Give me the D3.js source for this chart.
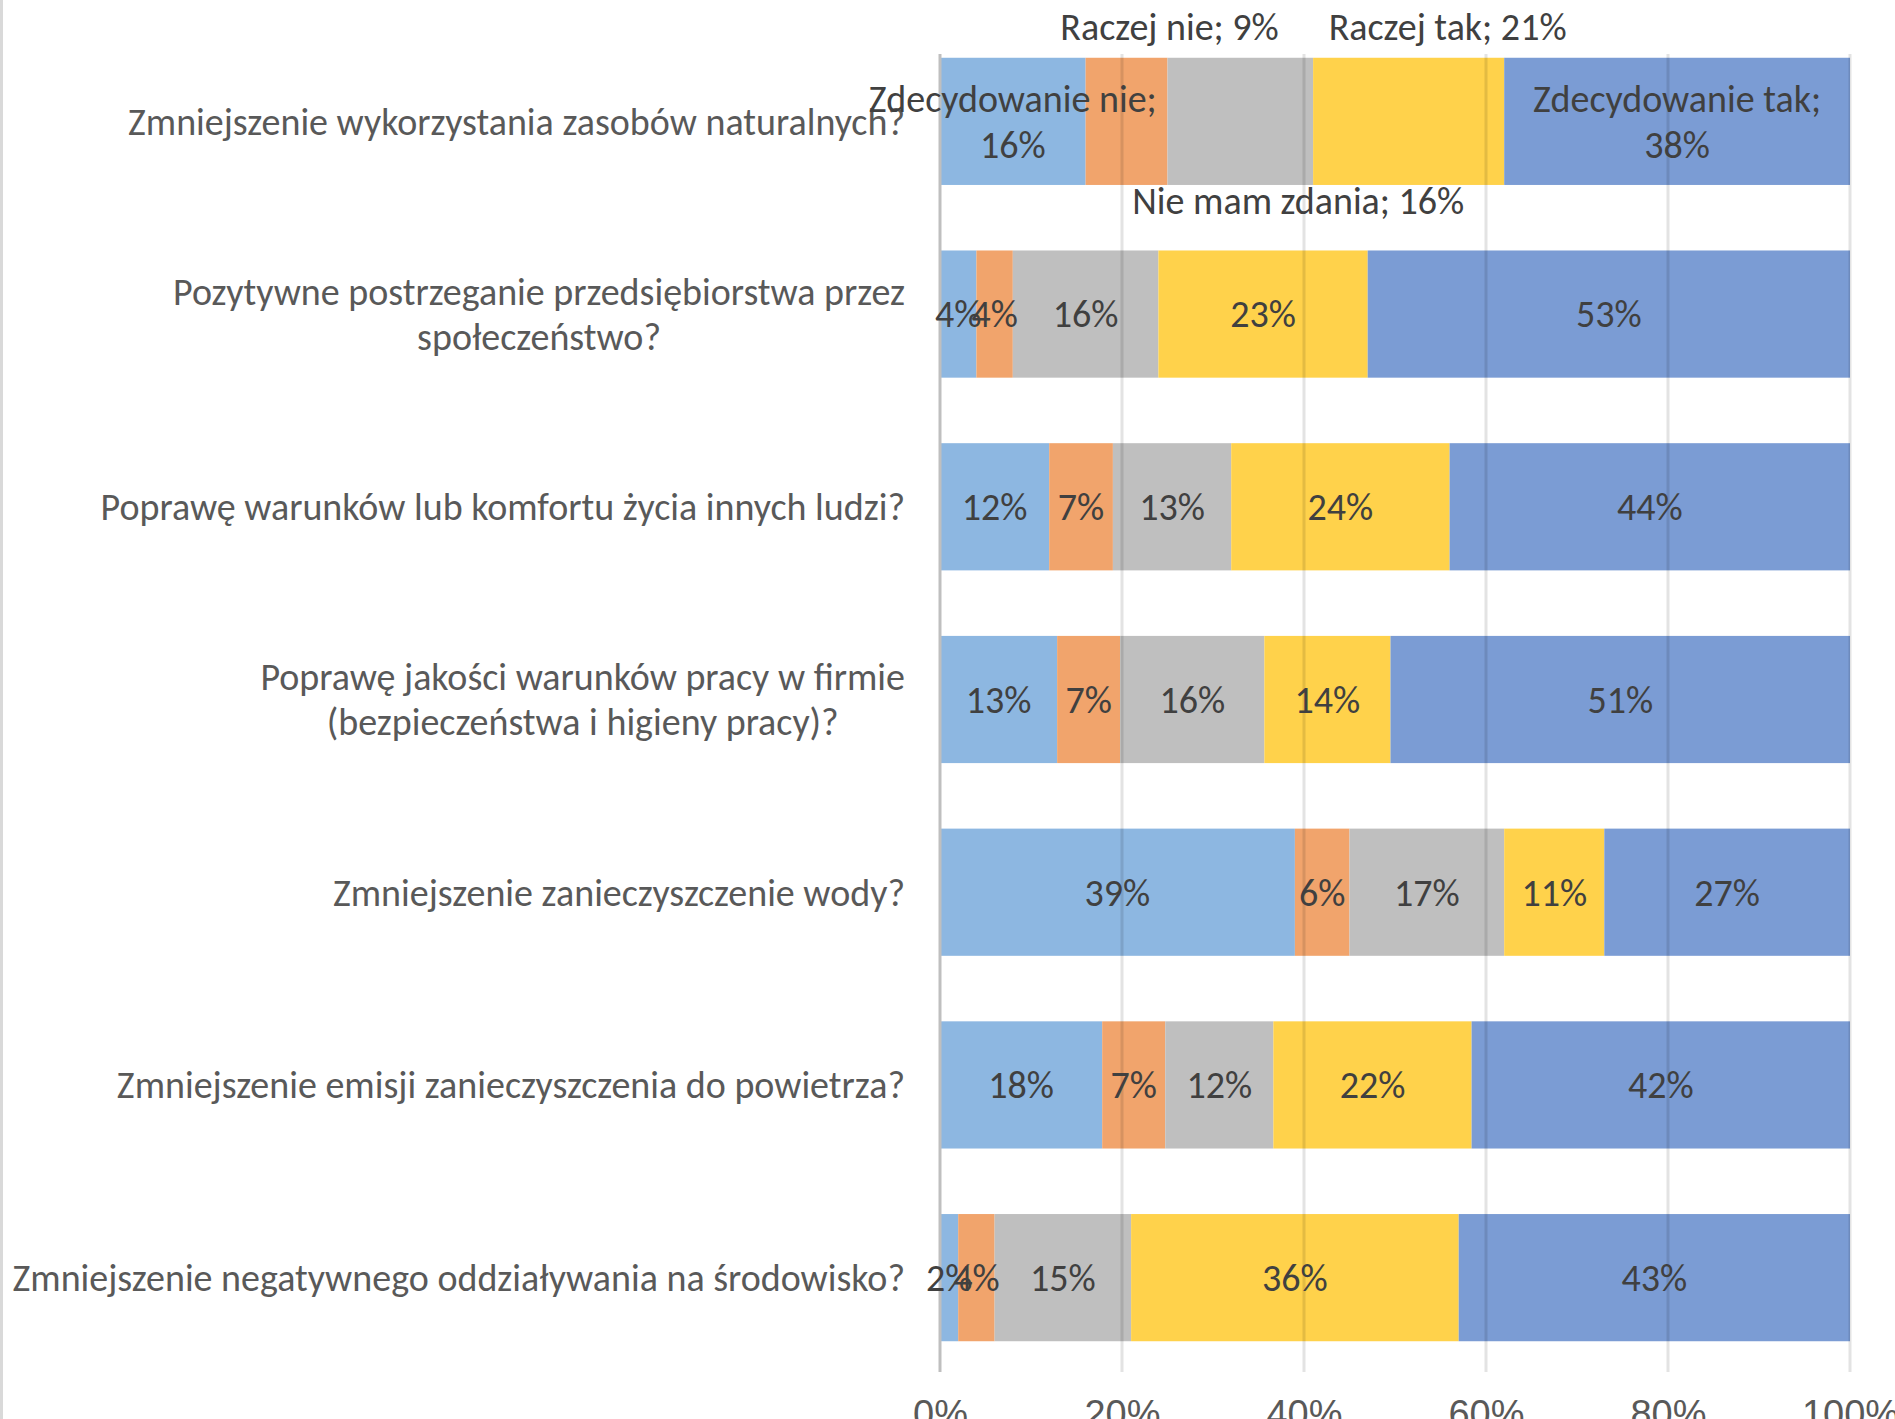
<!DOCTYPE html>
<html>
<head>
<meta charset="utf-8">
<script src="https://cdn.jsdelivr.net/npm/d3@7"></script>
<style>
  body { margin: 0; background: #fff; }
  svg { display: block; font-family: Carlito, "Liberation Sans Narrow", Lato, sans-serif; }
</style>
</head>
<body>
<div id="chart"></div>
<script>
// categories, top to bottom ("\n" = line break in the label)
const categories = [
  "Zmniejszenie wykorzystania zasobów naturalnych?",
  "Pozytywne postrzeganie przedsiębiorstwa przez\nspołeczeństwo?",
  "Poprawę warunków lub komfortu życia innych ludzi?",
  "Poprawę jakości warunków pracy w firmie\n(bezpieczeństwa i higieny pracy)?",
  "Zmniejszenie zanieczyszczenie wody?",
  "Zmniejszenie emisji zanieczyszczenia do powietrza?",
  "Zmniejszenie negatywnego oddziaływania na środowisko?"
];
const seriesNames = ["Zdecydowanie nie", "Raczej nie", "Nie mam zdania", "Raczej tak", "Zdecydowanie tak"];
const zdecydowanieNie = [16, 4, 12, 13, 39, 18, 2];
const raczejNie       = [9, 4, 7, 7, 6, 7, 4];
const nieMamZdania    = [16, 16, 13, 16, 17, 12, 15];
const raczejTak       = [21, 23, 24, 14, 11, 22, 36];
const zdecydowanieTak = [38, 53, 44, 51, 27, 42, 43];
const xTicks = [0, 0.2, 0.4, 0.6, 0.8, 1];

const colors = ["#8db7e1", "#f1a46c", "#bfbfbf", "#ffd24b", "#7b9cd4"];

// first row shows series names; some labels were dragged off the bar
const firstRowLabelPos = [
  { dx: 0, dy: 0, twoLines: true },
  { dx: 43, dy: -95, twoLines: false },
  { dx: 58, dy: 79, twoLines: false },
  { dx: 39, dy: -95, twoLines: false },
  { dx: 0, dy: 0, twoLines: true }
];

const W = 1895, H = 1419;
const fontSize = 38;

const svg = d3.select("#chart").append("svg")
  .attr("width", W).attr("height", H);

const allSeries = [zdecydowanieNie, raczejNie, nieMamZdania, raczejTak, zdecydowanieTak];
const rows = categories.map((c, i) => {
  const o = { cat: c };
  seriesNames.forEach((s, j) => { o[s] = allSeries[j][i]; });
  return o;
});

const stacked = d3.stack().keys(seriesNames).offset(d3.stackOffsetExpand)(rows);

const x = d3.scaleLinear().domain([0, 1]).range([940, 1850]);
const y = d3.scaleBand().domain(categories).range([25, 1374])
  .paddingInner(0.34).paddingOuter(0.17);

const gridTop = 54, gridBottom = 1372;

// left border of the chart area
svg.append("line")
  .attr("x1", 1.5).attr("x2", 1.5).attr("y1", 0).attr("y2", H)
  .attr("stroke", "#d9d9d9").attr("stroke-width", 3);

// bars
svg.append("g").selectAll("g")
  .data(stacked)
  .join("g")
  .attr("fill", (d, i) => colors[i])
  .selectAll("rect")
  .data(d => d)
  .join("rect")
  .attr("x", d => x(d[0]))
  .attr("y", d => y(d.data.cat))
  .attr("width", d => x(d[1]) - x(d[0]))
  .attr("height", y.bandwidth());

// gridlines drawn over the bars, faint
svg.append("g").selectAll("line")
  .data(xTicks.slice(1))
  .join("line")
  .attr("x1", d => x(d)).attr("x2", d => x(d))
  .attr("y1", gridTop).attr("y2", gridBottom)
  .attr("stroke", "#000").attr("stroke-opacity", 0.11).attr("stroke-width", 3);

// vertical axis line
svg.append("line")
  .attr("x1", x(0)).attr("x2", x(0))
  .attr("y1", gridTop).attr("y2", gridBottom)
  .attr("stroke", "#bfbfbf").attr("stroke-width", 3);

// bottom tick labels
const xAxis = svg.append("g")
  .attr("transform", `translate(0,${gridBottom})`)
  .call(d3.axisBottom(x).tickValues(xTicks).tickFormat(d3.format(".0%")).tickSize(0).tickPadding(28));
xAxis.select(".domain").remove();
xAxis.selectAll("text")
  .attr("fill", "#595959")
  .style("font-size", fontSize + "px")
  .style("font-family", null);

// category labels: block right-aligned, lines centred within block
const labelRight = 905;
const lineH = 45;
categories.forEach(c => {
  const lines = c.split("\n");
  const g = svg.append("g");
  const cy = y(c) + y.bandwidth() / 2;
  const texts = lines.map((ln, k) => g.append("text")
    .attr("y", cy + (k - (lines.length - 1) / 2) * lineH)
    .attr("dy", "0.35em")
    .attr("text-anchor", "middle")
    .attr("fill", "#595959")
    .style("font-size", fontSize + "px")
    .text(ln));
  const maxW = d3.max(texts, t => t.node().getComputedTextLength());
  texts.forEach(t => t.attr("x", labelRight - maxW / 2));
});

// value labels
const valueLabels = svg.append("g")
  .attr("text-anchor", "middle")
  .attr("fill", "#404040")
  .style("font-size", fontSize + "px");

stacked.forEach((s, j) => {
  s.forEach((d, i) => {
    const cx = (x(d[0]) + x(d[1])) / 2;
    const cy = y(d.data.cat) + y.bandwidth() / 2;
    const val = d.data[s.key] + "%";
    if (i === 0) {
      const p = firstRowLabelPos[j];
      if (p.twoLines) {
        valueLabels.append("text").attr("x", cx + p.dx).attr("y", cy + p.dy - 23)
          .attr("dy", "0.35em").text(s.key + ";");
        valueLabels.append("text").attr("x", cx + p.dx).attr("y", cy + p.dy + 23)
          .attr("dy", "0.35em").text(val);
      } else {
        valueLabels.append("text").attr("x", cx + p.dx).attr("y", cy + p.dy)
          .attr("dy", "0.35em").text(s.key + "; " + val);
      }
    } else {
      valueLabels.append("text").attr("x", cx).attr("y", cy)
        .attr("dy", "0.35em").text(val);
    }
  });
});
</script>
</body>
</html>
